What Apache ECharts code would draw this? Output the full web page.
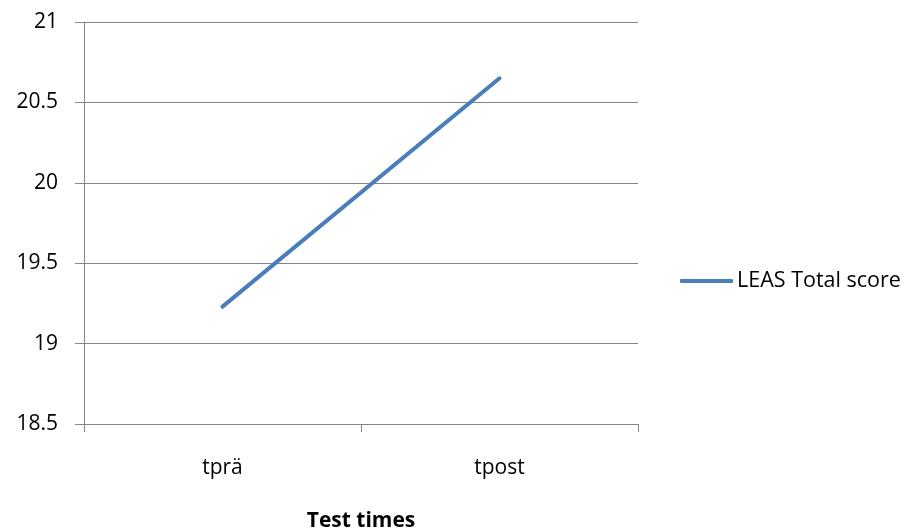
<!DOCTYPE html>
<html><head><meta charset="utf-8">
<script src="https://cdn.jsdelivr.net/npm/echarts@6/dist/echarts.min.js"></script>
<style>html,body{margin:0;padding:0;background:#fff}#c{width:914px;height:529px}</style>
</head><body><div id="c"></div>
<script>
const categories = ['tprä', 'tpost'];
const seriesName = 'LEAS Total score';
const values = [19.23, 20.65];
const xAxisTitle = 'Test times';

const FONT = 'Open Sans';
const chart = echarts.init(document.getElementById('c'));
chart.setOption({
  animation: false,
  backgroundColor: '#ffffff',
  grid: { left: 84, top: 22, right: 276, bottom: 105, containLabel: false, outerBoundsMode: 'none' },
  legend: {
    data: [{ name: seriesName, icon: 'roundRect' }],
    left: 680, top: 270, orient: 'vertical', padding: 0,
    itemWidth: 53, itemHeight: 4, itemGap: 0,
    textStyle: { fontFamily: FONT, fontSize: 21.5, color: '#000', padding: [0, 0, 0, -1] }
  },
  xAxis: {
    type: 'category', data: categories, boundaryGap: true,
    name: xAxisTitle, nameLocation: 'middle', nameGap: 87,
    nameTextStyle: { fontFamily: FONT, fontSize: 21, fontWeight: 'bold', color: '#000' },
    axisLine: { lineStyle: { color: '#868686', width: 1 } },
    axisTick: { show: true, length: 8, alignWithLabel: false, lineStyle: { color: '#868686' } },
    axisLabel: { fontFamily: FONT, fontSize: 21, color: '#000', margin: 34 },
    splitLine: { show: false }
  },
  yAxis: {
    type: 'value', min: 18.5, max: 21, interval: 0.5,
    axisLine: { show: true, lineStyle: { color: '#868686', width: 1 } },
    axisTick: { show: true, length: 9, lineStyle: { color: '#868686' } },
    axisLabel: { fontFamily: FONT, fontSize: 21, color: '#000', margin: 26 },
    splitLine: { show: true, lineStyle: { color: '#868686', width: 1 } }
  },
  series: [{
    name: seriesName, type: 'line', data: values,
    symbol: 'none', lineStyle: { color: '#4A7EBB', width: 4, cap: 'round' },
    itemStyle: { color: '#4A7EBB' }
  }]
});
</script></body></html>
